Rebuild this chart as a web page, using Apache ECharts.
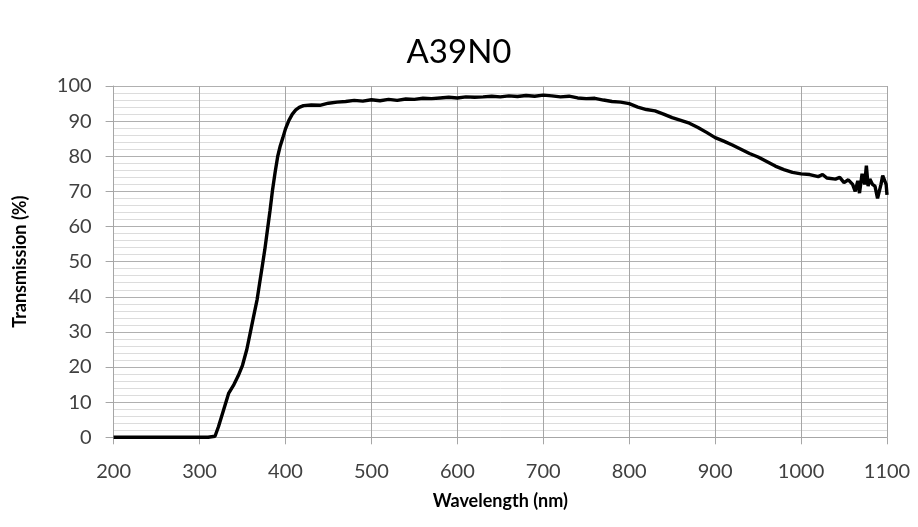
<!DOCTYPE html>
<html>
<head>
<meta charset="utf-8">
<script src="https://cdn.jsdelivr.net/npm/echarts@6/dist/echarts.min.js"></script>
<style>
html,body{margin:0;padding:0;background:#fff;}
#chart{width:918px;height:527px;}
</style>
</head>
<body>
<div id="chart"></div>
<script>
const chartTitle = "A39N0";
const xAxisTitle = "Wavelength (nm)";
const yAxisTitle = "Transmission (%)";

const wavelengths = [200, 250, 300, 310, 318, 322, 327, 334, 340, 345, 350, 355, 359, 363, 367, 370, 373, 376, 379, 382, 385, 388, 391, 394, 397, 400, 404, 408, 412, 416, 421, 430, 440, 450, 460, 470, 480, 490, 500, 510, 520, 530, 540, 550, 560, 570, 580, 590, 600, 610, 620, 630, 640, 650, 660, 670, 680, 690, 700, 710, 720, 730, 740, 750, 760, 770, 780, 790, 800, 810, 820, 830, 840, 850, 860, 870, 880, 890, 900, 910, 920, 930, 940, 950, 960, 970, 980, 990, 1000, 1010, 1020, 1025, 1030, 1040, 1045, 1050, 1055, 1060, 1063, 1066, 1068, 1071, 1074, 1076, 1078, 1080, 1083, 1086, 1089, 1091, 1093, 1095, 1097, 1099, 1100];
const transmission = [0, 0, 0, 0, 0.3, 3, 7, 12.6, 15, 17.5, 20.5, 25, 29.7, 34.5, 39.2, 44, 48.7, 53.5, 59, 64.5, 70.5, 75.5, 80, 83, 85.3, 87.8, 90.2, 92, 93.2, 93.9, 94.4, 94.6, 94.5, 95.1, 95.4, 95.6, 95.9, 95.7, 96.1, 95.8, 96.2, 95.9, 96.3, 96.2, 96.5, 96.4, 96.6, 96.8, 96.6, 96.9, 96.8, 96.9, 97.1, 96.9, 97.2, 97.0, 97.3, 97.1, 97.4, 97.2, 96.9, 97.1, 96.6, 96.4, 96.5, 96.0, 95.6, 95.4, 95.0, 94.0, 93.3, 92.9, 92.0, 91.0, 90.2, 89.4, 88.2, 86.8, 85.3, 84.3, 83.2, 82.0, 80.8, 79.8, 78.5, 77.2, 76.2, 75.4, 75.0, 74.8, 74.2, 74.8, 73.8, 73.5, 74.0, 72.5, 73.3, 72.0, 70.0, 73.0, 69.5, 75.0, 72.0, 77.3, 71.5, 73.5, 72.0, 71.5, 68.0, 67.5, 72.0, 74.5, 74.8, 72.0, 69.0];

const xTicks = {min: 200, max: 1100, interval: 100};
const yTicks = {min: 0, max: 100, interval: 10};

const seriesData = wavelengths.map((w, i) => [w, transmission[i]]);
const FONT = "Lato, 'Open Sans', sans-serif";

const chart = echarts.init(document.getElementById('chart'), null, {renderer: 'canvas'});
chart.setOption({
  animation: false,
  backgroundColor: '#ffffff',
  title: {
    text: chartTitle,
    left: 'center',
    top: 31,
    textStyle: {fontFamily: FONT, fontSize: 33, fontWeight: 'normal', color: '#000'}
  },
  grid: {left: 113.6, right: 31, top: 86, bottom: 89.7, containLabel: false},
  xAxis: {
    type: 'value',
    min: xTicks.min, max: xTicks.max, interval: xTicks.interval,
    name: xAxisTitle,
    nameLocation: 'middle',
    nameGap: 55,
    nameTextStyle: {fontFamily: FONT, fontSize: 18, fontWeight: 'bold', color: '#000'},
    axisLine: {show: true, lineStyle: {color: '#a6a6a6', width: 1}},
    axisTick: {show: true, length: 7, inside: false, lineStyle: {color: '#a6a6a6'}},
    axisLabel: {fontFamily: FONT, fontSize: 20, color: '#404040', margin: 24,
                formatter: v => String(v)},
    splitLine: {show: true, lineStyle: {color: '#a6a6a6', width: 1}}
  },
  yAxis: {
    type: 'value',
    min: yTicks.min, max: yTicks.max, interval: yTicks.interval,
    name: yAxisTitle,
    nameLocation: 'middle',
    nameGap: 84,
    nameRotate: 90,
    nameTextStyle: {fontFamily: FONT, fontSize: 18, fontWeight: 'bold', color: '#000'},
    axisLine: {show: true, lineStyle: {color: '#a6a6a6', width: 1}},
    axisTick: {show: true, length: 8, lineStyle: {color: '#a6a6a6'}},
    axisLabel: {fontFamily: FONT, fontSize: 20, color: '#404040', margin: 22,
                formatter: v => String(v)},
    splitLine: {show: true, lineStyle: {color: '#b0b0b0', width: 1}},
    minorTick: {show: false, splitNumber: 5},
    minorSplitLine: {show: true, lineStyle: {color: '#dcdcdc', width: 1}}
  },
  series: [{
    type: 'line',
    data: seriesData,
    showSymbol: false,
    smooth: false,
    lineStyle: {color: '#000', width: 3.4},
    z: 5
  }]
});
</script>
</body>
</html>
